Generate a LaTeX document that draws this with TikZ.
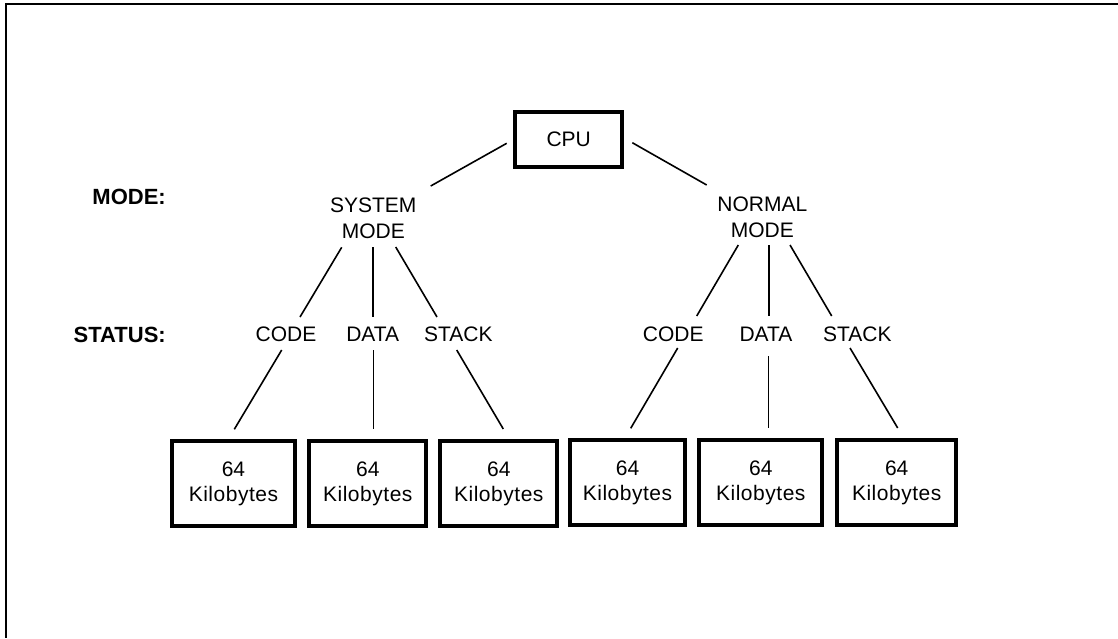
\documentclass[tikz,border=0pt]{standalone}
\usepackage{fontspec}
\setmainfont{Liberation Sans}
\newfontfamily\kbfont[LetterSpace=2.5]{Liberation Sans}
\begin{document}
\begin{tikzpicture}[x=1pt,y=-1pt,
  txt/.style={font=\fontsize{21}{26}\selectfont, align=center, inner sep=0pt},
  lbl/.style={font=\bfseries\fontsize{22}{26}\selectfont, anchor=east, inner sep=0pt},
  cpubox/.style={draw, line width=4pt, minimum width=107pt, minimum height=55pt, inner sep=0pt, font=\fontsize{21}{26}\selectfont},
  membox/.style={draw, line width=4pt, minimum height=85pt, inner sep=0pt, align=center, font=\fontsize{21}{25}\selectfont},
  conn/.style={line width=1.6pt},
  frame/.style={line width=2pt}]
\useasboundingbox (0,0) rectangle (1118,638);
\coordinate (ftl) at (6,4);
\coordinate (ftr) at (1118,4);
\coordinate (fbl) at (6,638);
\draw[frame] (ftr) -- (ftl) -- (fbl);

\node[cpubox] (cpu) at (568.7,139.6) {CPU};
\node[txt] (sys) at (373.3,218) {SYSTEM\\MODE};
\node[txt] (nor) at (762.3,217.7) {NORMAL\\MODE};

\node[lbl] (modelbl) at (166,197) {MODE:};
\node[lbl] (statlbl) at (166,335) {STATUS:};

\node[txt] (c1) at (286,334) {CODE};
\node[txt] (d1) at (372.7,334) {DATA};
\node[txt] (k1) at (458.3,334) {STACK};
\node[txt] (c2) at (673.3,334) {CODE};
\node[txt] (d2) at (766,334) {DATA};
\node[txt] (k2) at (857.3,334) {STACK};

\node[membox, minimum width=122.7pt] (m1) at (233.5,483.8) {64\\{\kbfont Kilobytes}};
\node[membox, minimum width=117pt] (m2) at (367.8,483.8) {64\\{\kbfont Kilobytes}};
\node[membox, minimum width=117pt] (m3) at (498.8,483.8) {64\\{\kbfont Kilobytes}};
\node[membox, minimum width=114.4pt] (m4) at (627.5,482.5) {64\\{\kbfont Kilobytes}};
\node[membox, minimum width=123pt] (m5) at (760.8,482.5) {64\\{\kbfont Kilobytes}};
\node[membox, minimum width=119.3pt] (m6) at (896.7,482.5) {64\\{\kbfont Kilobytes}};

\draw[conn] ([shift={(-62,3.7)}]cpu.center) -- ([shift={(57.4,-32)}]sys.center);
\draw[conn] ([shift={(63.6,3.1)}]cpu.center) -- ([shift={(-55.6,-32.7)}]nor.center);

\draw[conn] ([shift={(-31.6,29.3)}]sys.center) -- ([shift={(14,-17)}]c1.center);
\draw[conn] ([shift={(-0.3,29)}]sys.center) -- ([shift={(0.3,-17)}]d1.center);
\draw[conn] ([shift={(22.4,29)}]sys.center) -- ([shift={(-21.3,-17)}]k1.center);

\draw[conn] ([shift={(-24,27.3)}]nor.center) -- ([shift={(23.4,-18)}]c2.center);
\draw[conn] ([shift={(6.7,27.3)}]nor.center) -- ([shift={(3,-18)}]d2.center);
\draw[conn] ([shift={(27.7,27.3)}]nor.center) -- ([shift={(-25.6,-18)}]k2.center);

\draw[conn] ([shift={(-4.3,16)}]c1.center) -- ([shift={(0.8,-54.5)}]m1.center);
\draw[conn] ([shift={(0.6,16)}]d1.center) -- ([shift={(5.5,-54.8)}]m2.center);
\draw[conn] ([shift={(-1.6,16)}]k1.center) -- ([shift={(4.5,-54.8)}]m3.center);

\draw[conn] ([shift={(4.4,14)}]c2.center) -- ([shift={(3.2,-54.2)}]m4.center);
\draw[conn] ([shift={(2.3,22)}]d2.center) -- ([shift={(7.5,-54.5)}]m5.center);
\draw[conn] ([shift={(-7.3,14)}]k2.center) -- ([shift={(1,-54.5)}]m6.center);
\end{tikzpicture}
\end{document}
